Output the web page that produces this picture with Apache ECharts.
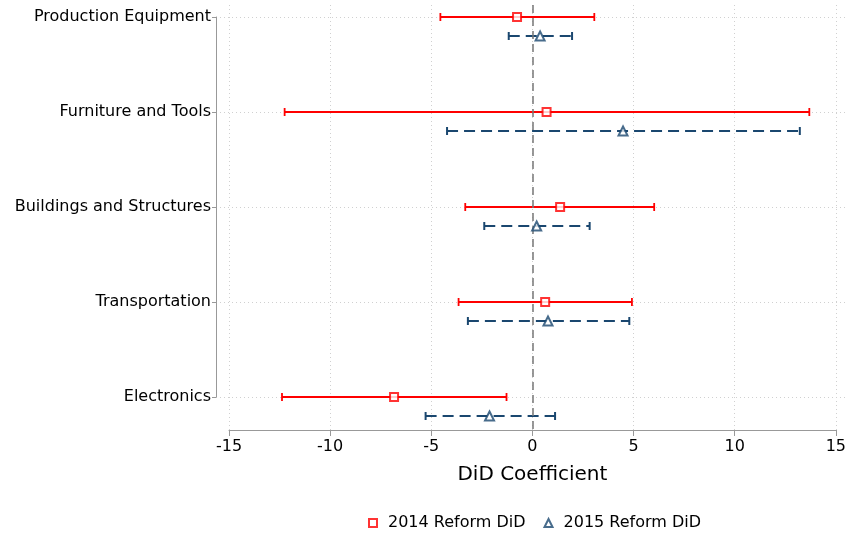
<!DOCTYPE html>
<html>
<head>
<meta charset="utf-8">
<script src="https://cdn.jsdelivr.net/npm/echarts@6/dist/echarts.min.js"></script>
<style>
  html, body { margin: 0; padding: 0; background: #fff; }
  #chart { width: 849px; height: 533px; }
</style>
</head>
<body>
<div id="chart"></div>
<script>
// categories top to bottom
var categories = ['Production Equipment', 'Furniture and Tools', 'Buildings and Structures', 'Transportation', 'Electronics'];

// 2014 reform: point estimate and CI
var est2014 = [-0.76, 0.70, 1.37, 0.63, -6.84];
var lo2014  = [-4.55, -12.25, -3.32, -3.65, -12.38];
var hi2014  = [3.06, 13.69, 6.02, 4.92, -1.28];

// 2015 reform
var est2015 = [0.38, 4.48, 0.21, 0.77, -2.12];
var lo2015  = [-1.17, -4.22, -2.38, -3.19, -5.28];
var hi2015  = [1.96, 13.22, 2.83, 4.79, 1.12];

var xTicks = [-15, -10, -5, 0, 5, 10, 15];

var RED = '#ff0000';
var NAVY = '#1a476f';
var FONT = 'DejaVu Sans';
var OFFSET = 0.2; // vertical shift of the 2015 row inside a category

function ciData(lo, hi, shift) {
  return lo.map(function (l, i) { return [l, hi[i], i + shift]; });
}
function ptData(est, shift) {
  return est.map(function (e, i) { return [e, i + shift]; });
}

function ciRenderer(color, width, dash) {
  return function (params, api) {
    var y = api.value(2);
    var a = api.coord([api.value(0), y]);
    var b = api.coord([api.value(1), y]);
    var style = { stroke: color, lineWidth: width, lineDash: dash };
    var capStyle = { stroke: color, lineWidth: width };
    return {
      type: 'group',
      children: [
        { type: 'line', shape: { x1: a[0], y1: a[1], x2: b[0], y2: b[1] }, style: style },
        { type: 'line', shape: { x1: a[0], y1: a[1] - 4, x2: a[0], y2: a[1] + 4 }, style: capStyle },
        { type: 'line', shape: { x1: b[0], y1: b[1] - 4, x2: b[0], y2: b[1] + 4 }, style: capStyle }
      ]
    };
  };
}

var chart = echarts.init(document.getElementById('chart'), null, { renderer: 'canvas' });

var option = {
  animation: false,
  textStyle: { fontFamily: FONT },
  grid: [
    { left: 229, right: 12, top: 5, bottom: 103 },
    { left: 216, right: 4, top: 17, bottom: 136 }
  ],
  xAxis: [
    {
      gridIndex: 0,
      type: 'value',
      position: 'bottom',
      min: xTicks[0],
      max: xTicks[xTicks.length - 1],
      interval: 5,
      name: 'DiD Coefficient',
      nameLocation: 'middle',
      nameGap: 35,
      nameTextStyle: { fontSize: 20, color: '#000', fontFamily: FONT },
      axisLine: { show: true, onZero: false, lineStyle: { color: '#999', width: 1 } },
      axisTick: { show: true, length: 6, lineStyle: { color: '#999' } },
      axisLabel: { margin: 9, fontSize: 16, color: '#000', fontFamily: FONT },
      splitLine: { show: true, lineStyle: { color: '#d0d0d0', type: [1, 3], width: 1 } }
    },
    {
      gridIndex: 1,
      type: 'value',
      min: 0,
      max: 1,
      show: false
    }
  ],
  yAxis: [
    {
      gridIndex: 0,
      type: 'value',
      inverse: true,
      min: -12 / 95,
      max: 4 + 33 / 95,
      show: false
    },
    {
      gridIndex: 1,
      type: 'category',
      data: categories,
      inverse: true,
      boundaryGap: false,
      axisLine: { show: true, lineStyle: { color: '#999', width: 1 } },
      axisTick: { show: true, length: 4, lineStyle: { color: '#999' } },
      axisLabel: { margin: 5, fontSize: 16, color: '#000', fontFamily: FONT },
      splitLine: { show: true, lineStyle: { color: '#d0d0d0', type: [1, 3], width: 1 } }
    }
  ],
  legend: {
    top: 510,
    left: 363,
    itemWidth: 8,
    itemHeight: 8,
    itemGap: 18,
    textStyle: { fontSize: 16, color: '#000', fontFamily: FONT, padding: [0, 0, 0, 6] },
    data: ['2014 Reform DiD', '2015 Reform DiD']
  },
  series: [
    {
      name: 'ci2014',
      type: 'custom',
      xAxisIndex: 0,
      yAxisIndex: 0,
      renderItem: ciRenderer(RED, 1.8, null),
      data: ciData(lo2014, hi2014, 0),
      z: 3,
      markLine: {
        silent: true,
        symbol: 'none',
        label: { show: false },
        lineStyle: { color: '#777', type: [8, 5], width: 1.5 },
        data: [{ xAxis: 0 }]
      }
    },
    {
      name: 'ci2015',
      type: 'custom',
      xAxisIndex: 0,
      yAxisIndex: 0,
      renderItem: ciRenderer(NAVY, 2, [11, 6]),
      data: ciData(lo2015, hi2015, OFFSET),
      z: 3
    },
    {
      name: '2014 Reform DiD',
      type: 'scatter',
      xAxisIndex: 0,
      yAxisIndex: 0,
      symbol: 'emptyRect',
      symbolSize: 8,
      itemStyle: { color: RED, borderWidth: 1.8 },
      data: ptData(est2014, 0),
      z: 5
    },
    {
      name: '2015 Reform DiD',
      type: 'scatter',
      xAxisIndex: 0,
      yAxisIndex: 0,
      symbol: 'emptyTriangle',
      symbolSize: 9,
      itemStyle: { color: NAVY, borderWidth: 1.8 },
      data: ptData(est2015, OFFSET),
      z: 5
    }
  ]
};

chart.setOption(option);
</script>
</body>
</html>
